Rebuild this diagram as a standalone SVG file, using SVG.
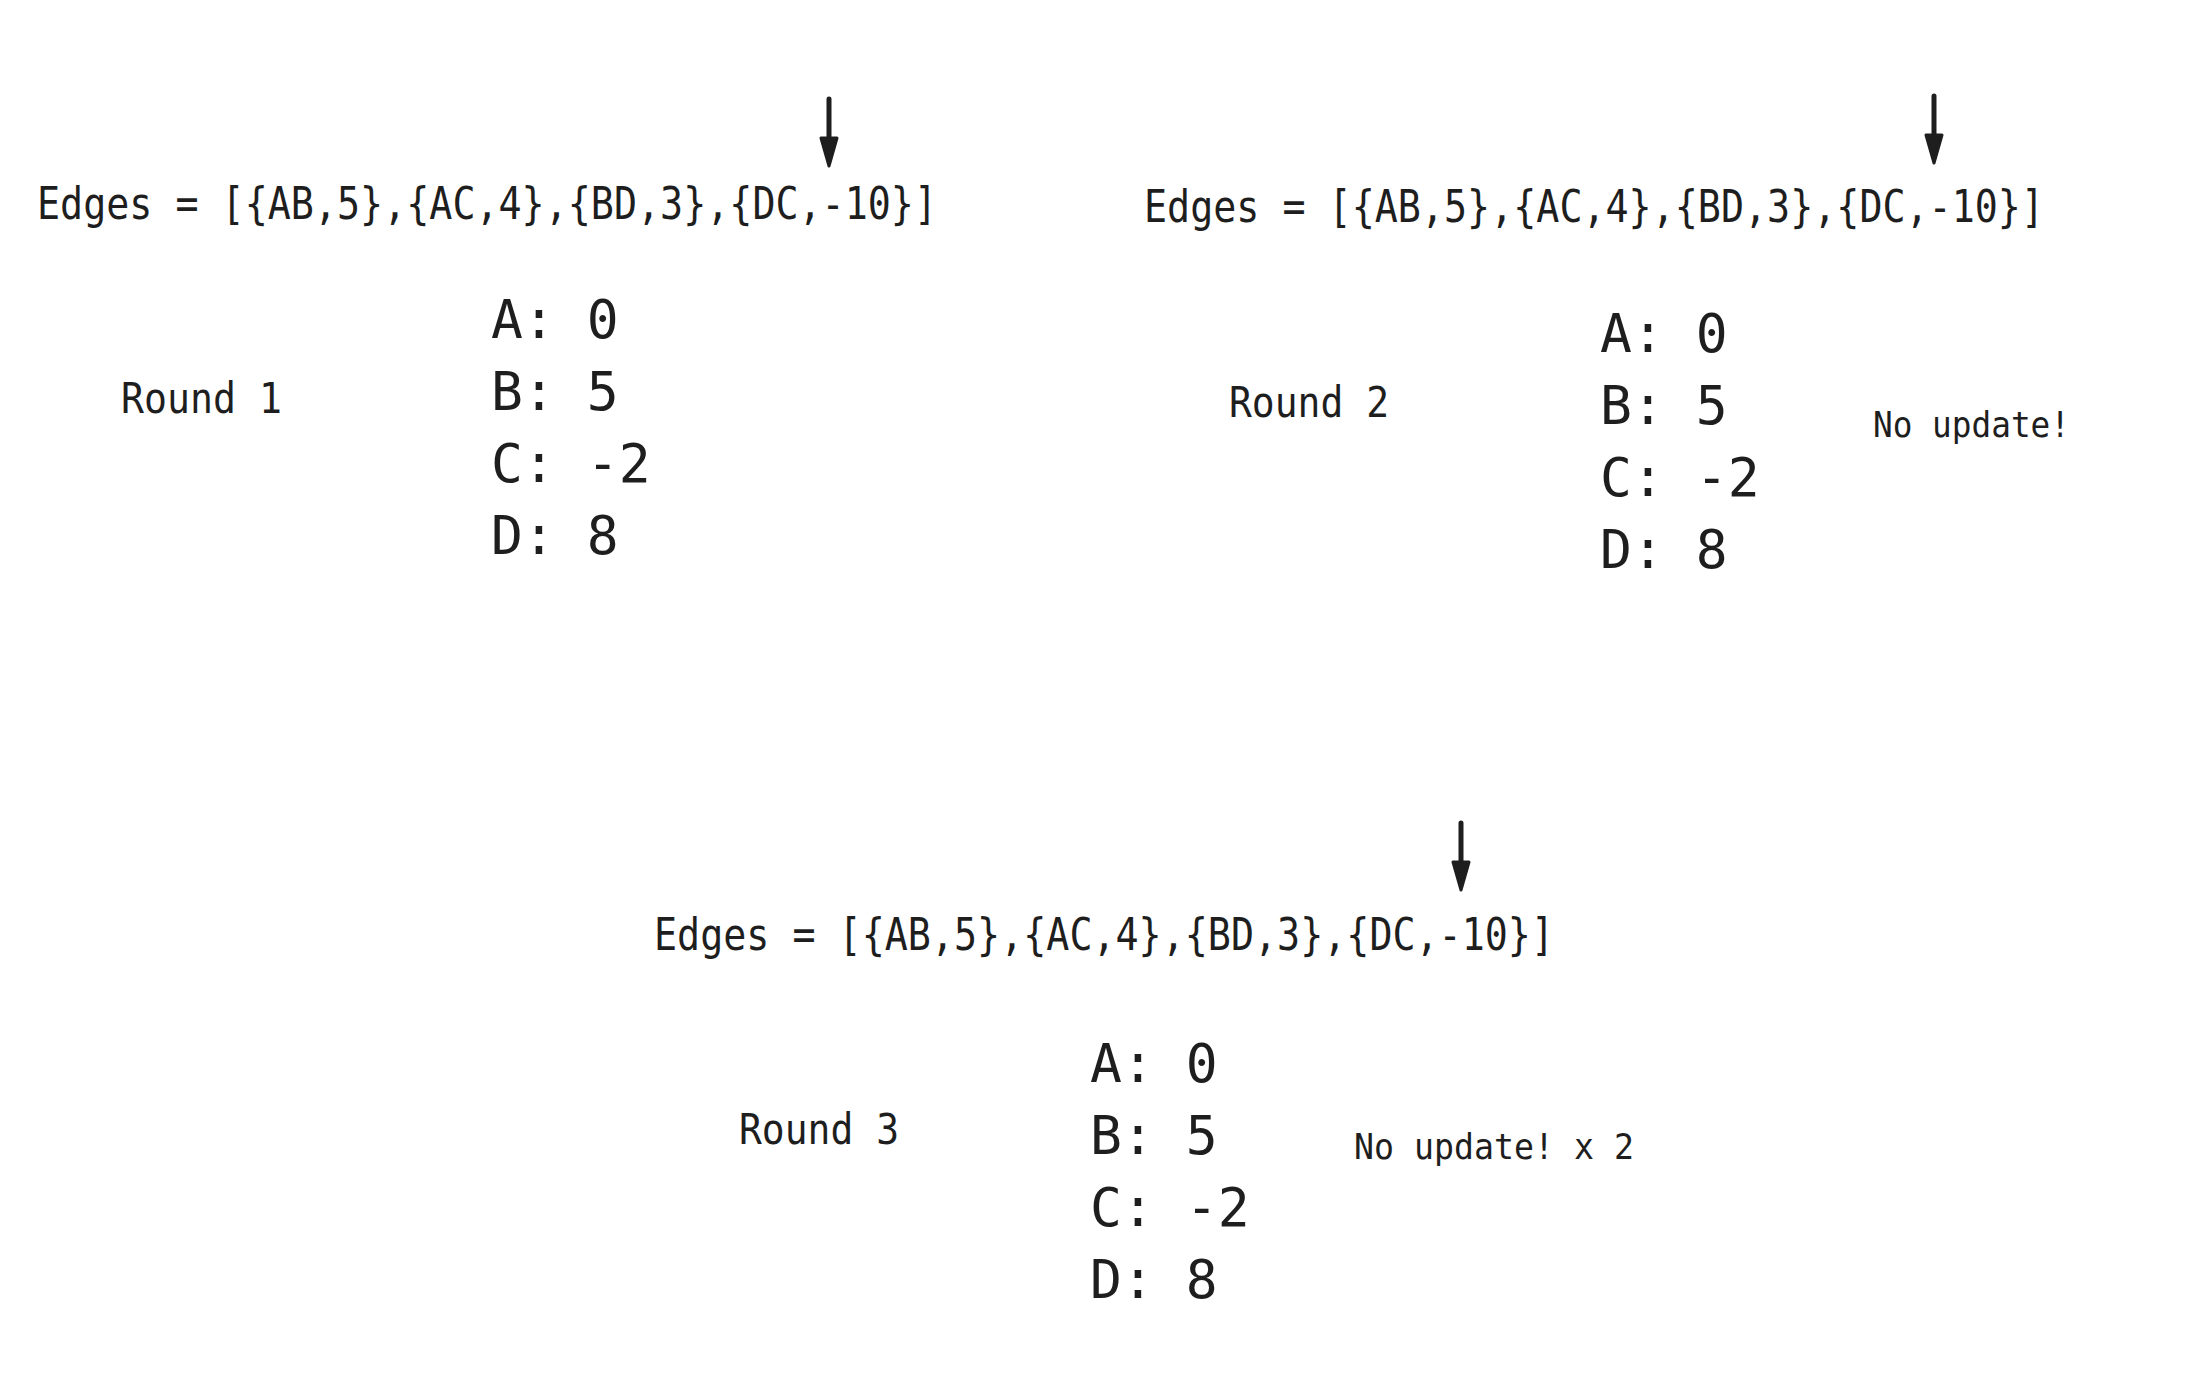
<svg xmlns="http://www.w3.org/2000/svg" width="2202" height="1396" viewBox="0 0 2202 1396">
<style>
text{font-family:"DejaVu Sans Mono","Liberation Mono",monospace;fill:#1e1e1e}
.edges{font-size:44px}
.round{font-size:42px}
.val{font-size:53px}
.note{font-size:36px}
.arr{stroke:#1e1e1e;stroke-width:5;stroke-linecap:round;fill:none}
.head{fill:#1e1e1e;stroke:#1e1e1e;stroke-width:3;stroke-linejoin:round}
</style>
<rect width="2202" height="1396" fill="#ffffff"/>
<g id="connectors">
<line class="arr" x1="829" y1="99" x2="829" y2="150"/>
<polygon class="head" points="821,138 837,138 829,166"/>
<line class="arr" x1="1934" y1="96" x2="1934" y2="147"/>
<polygon class="head" points="1926,135 1942,135 1934,163"/>
<line class="arr" x1="1461" y1="823" x2="1461" y2="874"/>
<polygon class="head" points="1453,862 1469,862 1461,890"/>
</g>
<g id="round1">
<text class="edges" x="37" y="219" textLength="900" lengthAdjust="spacingAndGlyphs">Edges = [{AB,5},{AC,4},{BD,3},{DC,-10}]</text>
<text class="round" x="121" y="413" textLength="161" lengthAdjust="spacingAndGlyphs">Round 1</text>
<text class="val" x="491" y="338">A: 0</text>
<text class="val" x="491" y="410">B: 5</text>
<text class="val" x="491" y="482">C: -2</text>
<text class="val" x="491" y="554">D: 8</text>
</g>
<g id="round2">
<text class="edges" x="1144" y="222" textLength="900" lengthAdjust="spacingAndGlyphs">Edges = [{AB,5},{AC,4},{BD,3},{DC,-10}]</text>
<text class="round" x="1229" y="417" textLength="160" lengthAdjust="spacingAndGlyphs">Round 2</text>
<text class="val" x="1600" y="352">A: 0</text>
<text class="val" x="1600" y="424">B: 5</text>
<text class="val" x="1600" y="496">C: -2</text>
<text class="val" x="1600" y="568">D: 8</text>
<text class="note" x="1873" y="437" textLength="197" lengthAdjust="spacingAndGlyphs">No update!</text>
</g>
<g id="round3">
<text class="edges" x="654" y="950" textLength="900" lengthAdjust="spacingAndGlyphs">Edges = [{AB,5},{AC,4},{BD,3},{DC,-10}]</text>
<text class="round" x="739" y="1144" textLength="160" lengthAdjust="spacingAndGlyphs">Round 3</text>
<text class="val" x="1090" y="1082">A: 0</text>
<text class="val" x="1090" y="1154">B: 5</text>
<text class="val" x="1090" y="1226">C: -2</text>
<text class="val" x="1090" y="1298">D: 8</text>
<text class="note" x="1354" y="1159" textLength="280" lengthAdjust="spacingAndGlyphs">No update! x 2</text>
</g>
</svg>
